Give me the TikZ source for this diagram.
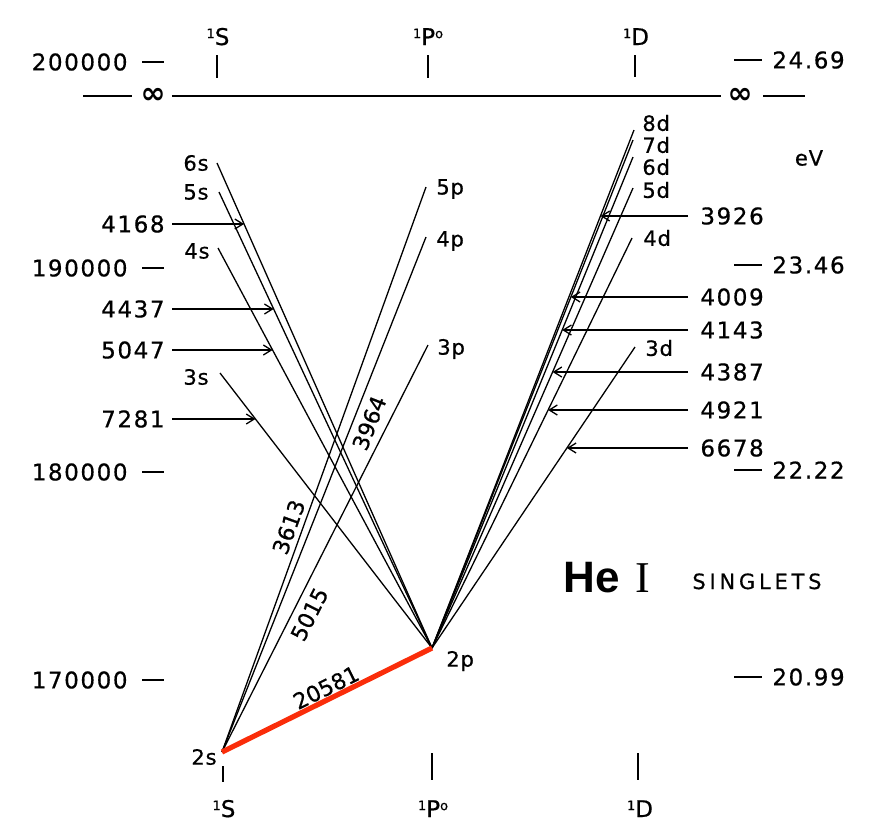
\documentclass[tikz,border=0pt]{standalone}
\usepackage{fontspec}
\setmainfont{DejaVu Sans}
\newfontfamily\numfont[LetterSpace=7,FakeBold=0.6]{DejaVu Sans}
\newfontfamily\onlfont[FakeBold=0.6]{DejaVu Sans}
\newfontfamily\lvlfont[LetterSpace=4,FakeBold=0.6]{DejaVu Sans}
\newfontfamily\capfont[LetterSpace=18,FakeBold=0.6]{DejaVu Sans}
\newfontfamily\hefont{Liberation Sans}
\newfontfamily\romfont{Liberation Serif}
\usetikzlibrary{arrows.meta,intersections}
\definecolor{redline}{RGB}{250,45,10}
\newcommand\tsup[1]{\raisebox{0.55ex}{\fontsize{6.5}{7}\selectfont #1}}
\newcommand\myLarrow[3]{%
  \node[num, anchor=east] (n#1) at (165,#2) {#1};
  \path[name path=h#1] ([xshift=3.5pt]n#1.east) -- ++(150,0);
  \draw[arr, name intersections={of=h#1 and #3, by=t#1}] ([xshift=3.5pt]n#1.east) -- (t#1);}
\newcommand\myRarrow[3]{%
  \node[num, anchor=west] (n#1) at (700,#2) {#1};
  \path[name path=h#1] ([xshift=-6pt]n#1.west) -- ++(-160,0);
  \draw[arr, name intersections={of=h#1 and #3, by=t#1}] ([xshift=-6pt]n#1.west) -- (t#1);}
\begin{document}
\begin{tikzpicture}[x=0.5pt,y=-0.5pt,
  num/.style={font=\numfont\fontsize{11.5}{12}\selectfont, inner sep=0pt},
  onl/.style={font=\onlfont\fontsize{11}{11}\selectfont, inner sep=0pt},
  lvl/.style={font=\lvlfont\fontsize{10.5}{11}\selectfont, inner sep=0pt},
  term/.style={font=\numfont\fontsize{11.5}{12}\selectfont, inner sep=0pt, anchor=base},
  trans/.style={line width=0.65pt},
  arr/.style={line width=0.65pt, -{Straight Barb[length=4pt,width=5pt]}},
  tick/.style={line width=1pt}]
\useasboundingbox (0,0) rectangle (881,826);

% energy scales
\foreach \v/\y in {200000/62,190000/268,180000/472,170000/680} {
  \node[num, anchor=east] (e\v) at (128,\y) {\v};
  \draw[tick] (142,\y) -- (164,\y);
}
\foreach \v/\y/\i in {24.69/60/a,23.46/265/b,22.22/470/c,20.99/677/d} {
  \node[num, anchor=west] (ev\i) at (772,\y) {\v};
  \draw[tick] (734,\y) -- (762,\y);
}
\node[lvl] (evunit) at (809,158) {eV};

% ionisation limit
\node[inner sep=0pt, font=\fontsize{15}{15}\bfseries\selectfont] (infL) at (153,96) {∞};
\node[inner sep=0pt, font=\fontsize{15}{15}\bfseries\selectfont] (infR) at (740,96) {∞};
\draw[tick] (83,96) -- (132,96);
\draw[tick] ([xshift=3pt]infL.east) -- ([xshift=-3pt]infR.west);
\draw[tick] (763,96) -- (805,96);

% term columns
\node[term] (tS) at (218,45) {\tsup{1}S};
\node[term] (tP) at (428,45) {\tsup{1}P\tsup{o}};
\node[term] (tD) at (636,45) {\tsup{1}D};
\draw[tick] (217,55) -- (217,78);
\draw[tick] (428,55) -- (428,78);
\draw[tick] (635,55) -- (635,77);
\node[term] (bS) at (224,817) {\tsup{1}S};
\node[term] (bP) at (433,817) {\tsup{1}P\tsup{o}};
\node[term] (bD) at (640,817) {\tsup{1}D};
\draw[tick] (223,766) -- (223,782);
\draw[tick] (432,753) -- (432,780);
\draw[tick] (638,753) -- (638,780);

% levels
\coordinate (s2) at (222,752);
\coordinate (p2) at (432,648);
\coordinate (s6) at (217,163);
\coordinate (s5) at (219,192);
\coordinate (s4) at (218,248);
\coordinate (s3) at (220,373);
\coordinate (p5) at (426,187);
\coordinate (p4) at (426,237);
\coordinate (p3) at (428,345);
\coordinate (d8) at (634,130);
\coordinate (d7) at (633,140);
\coordinate (d6) at (633,157);
\coordinate (d5) at (633,188);
\coordinate (d4) at (632,238);
\coordinate (d3) at (635,347);

\node[lvl, anchor=east] (ls6) at (209,163) {6s};
\node[lvl, anchor=east] (ls5) at (209,192) {5s};
\node[lvl, anchor=east] (ls4) at (210,251) {4s};
\node[lvl, anchor=east] (ls3) at (209,377) {3s};
\node[lvl, anchor=west] (lp5) at (436,189) {5p};
\node[lvl, anchor=west] (lp4) at (436,241) {4p};
\node[lvl, anchor=west] (lp3) at (437,349) {3p};
\node[lvl, anchor=west] (ld8) at (642,123) {8d};
\node[lvl, anchor=west] (ld7) at (642,145) {7d};
\node[lvl, anchor=west] (ld6) at (642,167) {6d};
\node[lvl, anchor=west] (ld5) at (642,190) {5d};
\node[lvl, anchor=west] (ld4) at (643,238) {4d};
\node[lvl, anchor=west] (ld3) at (645,348) {3d};
\node[lvl, anchor=west] (lp2) at (446,661) {2p};
\node[lvl, anchor=east] (ls2) at (217,757) {2s};

% transitions
\draw[trans, name path=Ls6] (p2) -- (s6);
\draw[trans, name path=Ls5] (p2) -- (s5);
\draw[trans, name path=Ls4] (p2) -- (s4);
\draw[trans, name path=Ls3] (p2) -- (s3);
\draw[trans] (s2) -- (p5);
\draw[trans] (s2) -- (p4);
\draw[trans] (s2) -- (p3);
\draw[trans, name path=Ld8] (p2) -- (d8);
\draw[trans, name path=Ld7] (p2) -- (d7);
\draw[trans, name path=Ld6] (p2) -- (d6);
\draw[trans, name path=Ld5] (p2) -- (d5);
\draw[trans, name path=Ld4] (p2) -- (d4);
\draw[trans, name path=Ld3] (p2) -- (d3);
\draw[redline, line width=2.6pt] (s2) -- (p2);

% labels on lines
\path (s2) -- node[onl, sloped, above=2.5pt, pos=0.39] (w3613) {3613} (p5);
\path (s2) -- node[onl, sloped, below=3.5pt, pos=0.65] (w3964) {3964} (p4);
\path (s2) -- node[onl, sloped, below=3.5pt, pos=0.356] (w5015) {5015} (p3);
\path (s2) -- node[onl, sloped, above=1.5pt, pos=0.52] (w20581) {20581} (p2);

% wavelength arrows
\myLarrow{4168}{224}{Ls6}
\myLarrow{4437}{309}{Ls5}
\myLarrow{5047}{350}{Ls4}
\myLarrow{7281}{419}{Ls3}
\myRarrow{3926}{216}{Ld8}
\myRarrow{4009}{297}{Ld7}
\myRarrow{4143}{330}{Ld6}
\myRarrow{4387}{372}{Ld5}
\myRarrow{4921}{410}{Ld4}
\myRarrow{6678}{448}{Ld3}

% title
\node[inner sep=0pt, anchor=base, font=\hefont\bfseries\fontsize{22}{24}\selectfont] (he) at (592,592) {He};
\node[inner sep=0pt, anchor=base, font=\romfont\fontsize{22}{24}\selectfont] (rom) at (643,592) {I};
\node[inner sep=0pt, anchor=base west, font=\capfont\fontsize{10.5}{11}\selectfont] (sing) at (692,589) {SINGLETS};
\end{tikzpicture}
\end{document}
